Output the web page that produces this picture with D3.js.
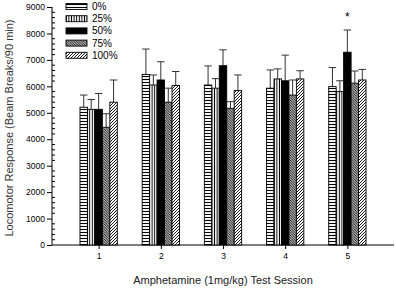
<!DOCTYPE html>
<html>
<head>
<meta charset="utf-8">
<script src="https://cdn.jsdelivr.net/npm/d3@7"></script>
<style>
  body { margin: 0; background: #fff; }
  text { font-family: "Liberation Sans", Arial, sans-serif; }
</style>
</head>
<body>
<div id="chart"></div>
<script>
const sessions = [1, 2, 3, 4, 5];
const doses = ['0%', '25%', '50%', '75%', '100%'];
const mean0 = [5210, 6450, 6050, 5930, 5990];
const err0 = [460, 960, 720, 690, 720];
const mean25 = [5130, 6050, 5930, 6280, 5800];
const err25 = [370, 380, 360, 380, 410];
const mean50 = [5130, 6240, 6780, 6210, 7290];
const err50 = [600, 690, 600, 970, 840];
const mean75 = [4450, 5400, 5170, 5670, 6120];
const err75 = [515, 530, 250, 570, 460];
const mean100 = [5400, 6030, 5840, 6280, 6240];
const err100 = [840, 530, 590, 310, 400];
const yTicks = [0, 1000, 2000, 3000, 4000, 5000, 6000, 7000, 8000, 9000];
const starSession = 5, starDose = '50%', starValue = 8480;

const means = [mean0, mean25, mean50, mean75, mean100];
const errs = [err0, err25, err50, err75, err100];

let conf = { width: 396, height: 289, left: 52, right: 394, top: 7, bottom: 245 };

const svg = d3.select('#chart').append('svg')
    .attr('width', conf.width)
    .attr('height', conf.height);

// fill patterns
const defs = svg.append('defs');
function pattern(id, size, path, sw) {
    const p = defs.append('pattern')
        .attr('id', id)
        .attr('patternUnits', 'userSpaceOnUse')
        .attr('width', size).attr('height', size);
    p.append('rect').attr('width', size).attr('height', size).attr('fill', '#fff');
    p.append('path').attr('d', path).attr('stroke', '#000').attr('stroke-width', sw).attr('fill', 'none');
}
pattern('p0', 3, 'M0,1.5 H3', 1.1);
pattern('p25', 2.6, 'M1.3,0 V2.6', 1);
pattern('p75', 2.5, 'M-1,-1 L3.5,3.5 M-1,1.5 L1,3.5 M1.5,-1 L3.5,1', 1);
pattern('p100', 3, 'M0,3 L3,0 M-1,1 L1,-1 M2,4 L4,2', 0.9);
const fills = ['url(#p0)', 'url(#p25)', '#000', 'url(#p75)', 'url(#p100)'];

let x = d3.scaleLinear().domain([0.25, 5.75]).range([conf.left, conf.right]);
let xSub = d3.scaleBand().domain(doses).range([-0.3, 0.3]);
let y = d3.scaleLinear().domain([0, 9000]).range([conf.bottom, conf.top]);

// axes
const yAxis = svg.append('g')
    .attr('transform', `translate(${conf.left},0)`)
    .call(d3.axisLeft(y).tickValues(yTicks).tickSize(5).tickPadding(2).tickFormat(d3.format('d')));
yAxis.selectAll('text').attr('font-size', 8.5).attr('fill', '#000');
yAxis.select('.domain').attr('d', `M0,${y(0)}V${y(9000)}`);

// minor ticks
svg.append('g').selectAll('line')
    .data(d3.range(0, 9001, 200).filter(v => v % 1000 !== 0))
    .join('line')
    .attr('x1', conf.left).attr('x2', conf.left + 3)
    .attr('y1', d => y(d)).attr('y2', d => y(d))
    .attr('stroke', '#000');

const xAxis = svg.append('g')
    .attr('transform', `translate(0,${conf.bottom})`)
    .call(d3.axisBottom(x).tickValues(sessions).tickSize(4).tickPadding(4).tickFormat(d3.format('d')));
xAxis.selectAll('text').attr('font-size', 8.5).attr('fill', '#000');
xAxis.select('.domain').attr('d', `M${conf.left},0H${conf.right}`);

// bars
const barData = [];
sessions.forEach((s, i) => {
    doses.forEach((d, j) => {
        barData.push({ s: s, dose: d, j: j, v: means[j][i], e: errs[j][i] });
    });
});

const bw = x(xSub.bandwidth()) - x(0);

// error bars (up only)
const eb = svg.append('g').attr('stroke', '#333').attr('stroke-width', 1);
eb.selectAll('line.v').data(barData).join('line')
    .attr('class', 'v')
    .attr('x1', d => x(d.s + xSub(d.dose) + xSub.bandwidth() / 2))
    .attr('x2', d => x(d.s + xSub(d.dose) + xSub.bandwidth() / 2))
    .attr('y1', d => y(d.v)).attr('y2', d => y(d.v + d.e));
eb.selectAll('line.c').data(barData).join('line')
    .attr('class', 'c')
    .attr('x1', d => x(d.s + xSub(d.dose) + xSub.bandwidth() / 2) - bw / 2)
    .attr('x2', d => x(d.s + xSub(d.dose) + xSub.bandwidth() / 2) + bw / 2)
    .attr('y1', d => y(d.v + d.e)).attr('y2', d => y(d.v + d.e));

svg.append('g').selectAll('rect').data(barData).join('rect')
    .attr('x', d => x(d.s + xSub(d.dose)))
    .attr('width', bw)
    .attr('y', d => y(d.v))
    .attr('height', d => y(0) - y(d.v))
    .attr('fill', d => fills[d.j])
    .attr('stroke', '#000')
    .attr('stroke-width', 0.9);

// significance marker
svg.append('text')
    .attr('x', x(starSession + xSub(starDose) + xSub.bandwidth() / 2))
    .attr('y', y(starValue))
    .attr('text-anchor', 'middle')
    .attr('font-size', 12)
    .text('*');

// legend
const legend = svg.append('g');
doses.forEach((d, j) => {
    const ly = 3.5 + j * 12.2;
    legend.append('rect')
        .attr('x', 66).attr('y', ly).attr('width', 21).attr('height', 6)
        .attr('fill', fills[j]).attr('stroke', '#000').attr('stroke-width', 0.9);
    legend.append('text')
        .attr('x', 92).attr('y', ly + 6.5)
        .attr('font-size', 10)
        .text(d);
});

// axis titles
svg.append('text')
    .attr('transform', `translate(13,${(conf.top + conf.bottom) / 2 + 2}) rotate(-90)`)
    .attr('text-anchor', 'middle')
    .attr('font-size', 11)
    .attr('fill', '#333')
    .text('Locomotor Response (Beam Breaks/90 min)');

svg.append('text')
    .attr('x', 223)
    .attr('y', 284)
    .attr('text-anchor', 'middle')
    .attr('font-size', 11)
    .attr('fill', '#222')
    .text('Amphetamine (1mg/kg) Test Session');
</script>
</body>
</html>
